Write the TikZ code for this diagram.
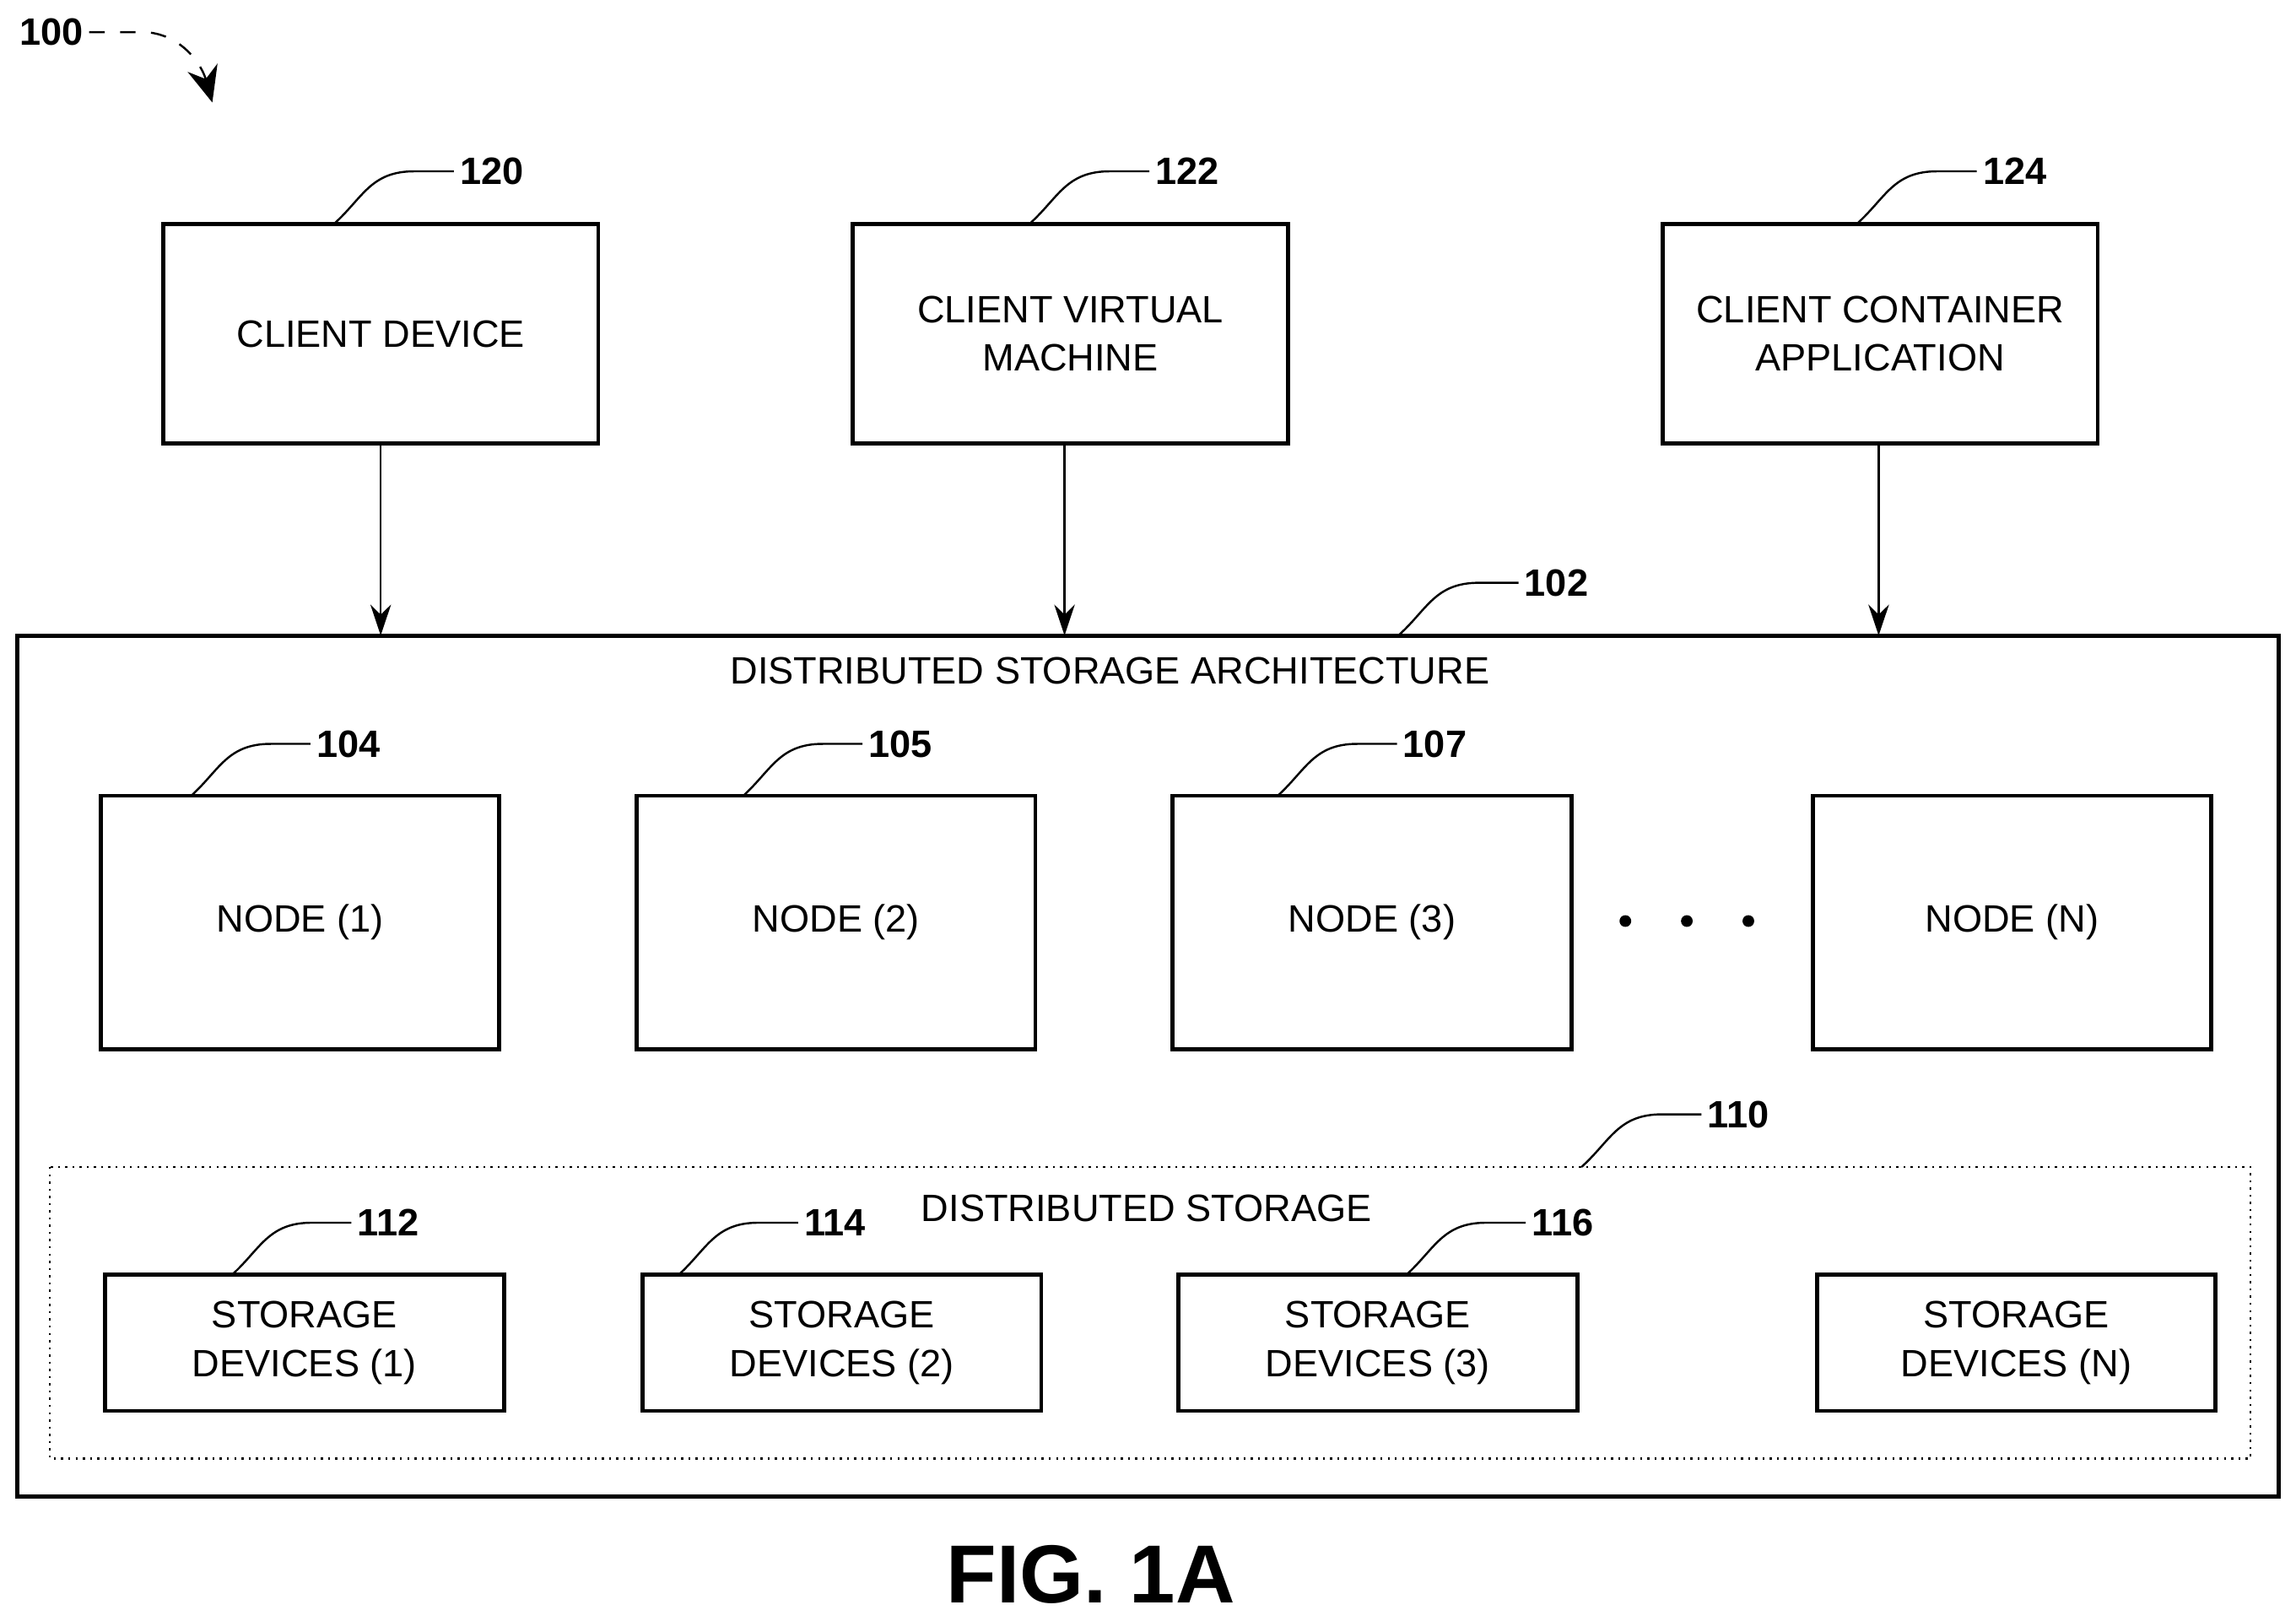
\documentclass[tikz,border=0pt]{standalone}
\usepackage{fontspec}
\setmainfont{Liberation Sans}
\usetikzlibrary{calc,arrows.meta}
\tikzset{
  box/.style={ % plain labelled block
    draw, rectangle, thick, align=center, inner sep=0pt,
    font=\fontsize{7.4}{9.4}\selectfont
  },
  title/.style={align=center, inner sep=0pt, font=\fontsize{7.4}{9.4}\selectfont},
  client/.style={box, minimum width=2.97cm, minimum height=1.5cm},
  snode/.style={box, minimum width=2.72cm, minimum height=1.73cm},
  sdev/.style={box, minimum width=2.72cm, minimum height=0.93cm},
  ref/.style={font=\bfseries\fontsize{7.4}{9}\selectfont, anchor=west, inner sep=1pt},
  lead/.style={thin}
}
% reference numeral with its curved leader line
\newcommand{\leader}[4]{% name, start x, start y, text
  \node[ref] (#1) at (#2+82,#3-36) {#4};
  \draw[lead] (#2,#3) .. controls (#2+20,#3-18) and (#2+25,#3-36) .. (#2+55,#3-36) -- (#1.west);
}
\begin{document}
\begin{tikzpicture}[x=0.01cm, y=-0.01cm]
  \useasboundingbox (0,0) rectangle (1568,1107);

  % clients
  \node[client] (cdev) at (260,228) {CLIENT DEVICE};
  \node[client] (cvm) at (731,228) {CLIENT VIRTUAL\\MACHINE};
  \node[client] (cca) at (1284,228) {CLIENT CONTAINER\\APPLICATION};

  % architecture
  \draw[thick] (12,434) rectangle (1556,1022);
  \node[title] (dsa) at (758,458) {DISTRIBUTED STORAGE ARCHITECTURE};
  \coordinate (a1) at (260,434);
  \coordinate (a2) at (727,434);
  \coordinate (a3) at (1283,434);
  \draw[-{Stealth[length=6pt,width=4pt]}] (cdev.south) -- (a1);
  \draw[-{Stealth[length=6pt,width=4pt]}] (cvm.south -| a2) -- (a2);
  \draw[-{Stealth[length=6pt,width=4pt]}] (cca.south -| a3) -- (a3);

  \node[snode] (n1) at (205,630) {NODE (1)};
  \node[snode] (n2) at (571,630) {NODE (2)};
  \node[snode] (n3) at (937,630) {NODE (3)};
  \node[snode] (nn) at (1374,630) {NODE (N)};
  \foreach \x in {1110,1152,1194}
    \fill (\x,629) circle (4);

  \draw[densely dotted] (34,797) rectangle (1537,996);
  \node[title] (ds) at (783,825) {DISTRIBUTED STORAGE};
  \node[sdev] (s1) at (208,917) {STORAGE\\DEVICES (1)};
  \node[sdev] (s2) at (575,917) {STORAGE\\DEVICES (2)};
  \node[sdev] (s3) at (941,917) {STORAGE\\DEVICES (3)};
  \node[sdev] (sn) at (1377,917) {STORAGE\\DEVICES (N)};

  % reference numerals
  \leader{r120}{228}{153}{120}
  \leader{r122}{703}{153}{122}
  \leader{r124}{1268}{153}{124}
  \leader{r102}{955}{434}{102}
  \leader{r104}{130}{544}{104}
  \leader{r105}{507}{544}{105}
  \leader{r107}{872}{544}{107}
  \leader{r110}{1080}{797}{110}
  \leader{r112}{158}{871}{112}
  \leader{r114}{463}{871}{114}
  \leader{r116}{960}{871}{116}

  \node[ref, anchor=center] (r100) at (35,22) {100};
  \coordinate (p100) at (145,70);
  \draw[dashed, -{Stealth[length=7pt,width=6pt]}] (r100.east) -- (100,22) .. controls (125,24) and (138,45) .. (p100);

  \node[font=\bfseries\fontsize{16}{18}\selectfont] (fig) at (745,1075) {FIG. 1A};
\end{tikzpicture}
\end{document}
